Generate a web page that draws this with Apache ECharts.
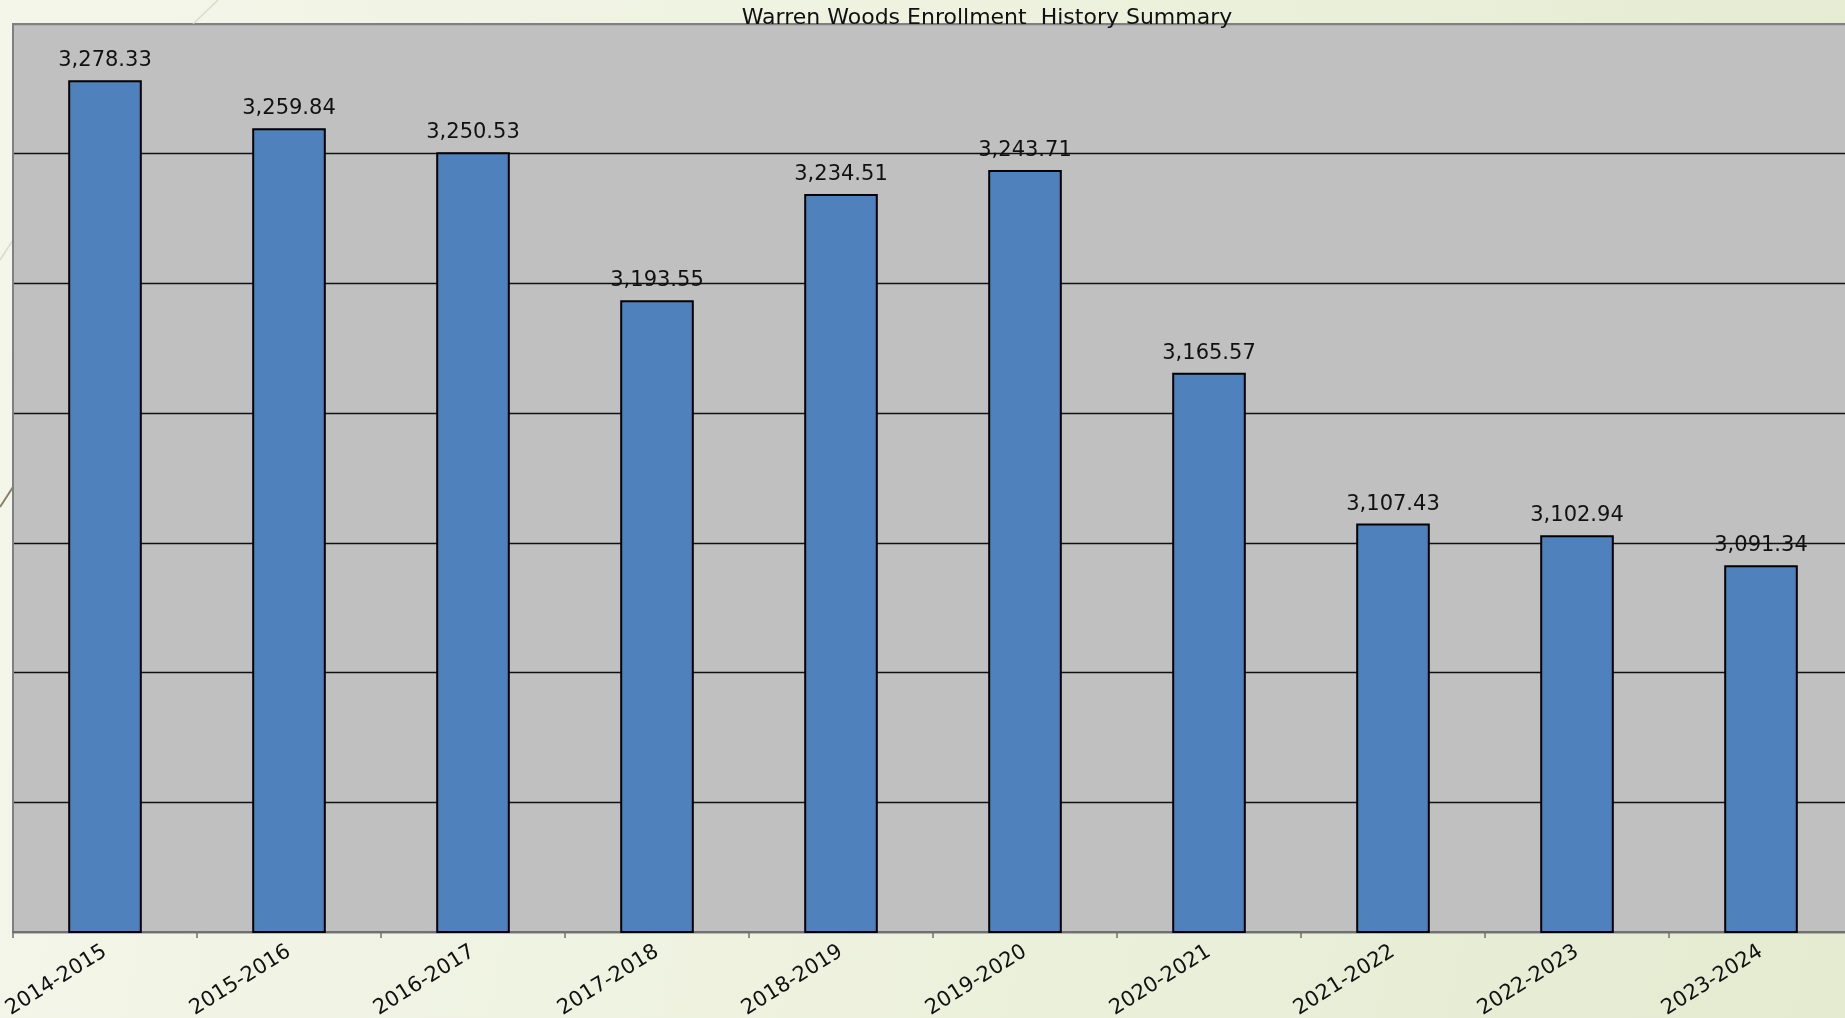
<!DOCTYPE html>
<html>
<head>
<meta charset="utf-8">
<title>Warren Woods Enrollment History Summary</title>
<script src="https://cdn.jsdelivr.net/npm/echarts@6/dist/echarts.min.js"></script>
<style>
    html, body { margin: 0; padding: 0; width: 100%; height: 100%; overflow: hidden; }
    body { background: linear-gradient(100deg, #f4f6ea 0%, #eef2df 45%, #e4ebd0 100%); }
    #chart_con { width: 1845px; height: 1018px; }
</style>
</head>
<body>
<div id="chart_con"></div>
<script>
    var titleText = 'Warren Woods Enrollment  History Summary';
    var years = ['2014-2015', '2015-2016', '2016-2017', '2017-2018', '2018-2019',
                 '2019-2020', '2020-2021', '2021-2022', '2022-2023', '2023-2024'];
    var enrollment = [3278.33, 3259.84, 3250.53, 3193.55, 3234.51,
                      3243.71, 3165.57, 3107.43, 3102.94, 3091.34];
    var yMin = 2950;
    var yMax = 3300;
    var yStep = 50;

    function fmt(v) {
        return v.toLocaleString('en-US', {minimumFractionDigits: 2, maximumFractionDigits: 2});
    }

    var chart = echarts.init(document.getElementById('chart_con'));
    chart.setOption({
        backgroundColor: 'transparent',
        animation: false,
        title: {
            text: titleText,
            left: 982,
            top: 2,
            textAlign: 'center',
            textStyle: {
                fontFamily: 'DejaVu Sans',
                fontWeight: 'normal',
                fontSize: 22,
                color: '#111'
            }
        },
        graphic: [
            {type: 'line', shape: {x1: 218, y1: 0, x2: 193, y2: 24}, style: {stroke: '#d9dccb', lineWidth: 1.5}},
            {type: 'line', shape: {x1: 0, y1: 260, x2: 13, y2: 240}, style: {stroke: '#d9dccb', lineWidth: 1.5}},
            {type: 'line', shape: {x1: 0, y1: 507, x2: 13, y2: 487}, style: {stroke: '#8a7f68', lineWidth: 2}}
        ],
        grid: {
            show: true,
            left: 13,
            top: 24,
            width: 1840,
            bottom: 86,
            outerBoundsMode: 'none',
            containLabel: false,
            backgroundColor: '#c0c0c0',
            borderColor: '#808080',
            borderWidth: 2
        },
        xAxis: {
            type: 'category',
            data: years,
            axisLine: {lineStyle: {color: '#707070', width: 2}},
            axisTick: {show: true, length: 6, lineStyle: {color: '#707070', width: 1.5}},
            axisLabel: {
                rotate: 32,
                margin: 18,
                fontFamily: 'DejaVu Sans',
                fontSize: 21,
                color: '#111'
            }
        },
        yAxis: {
            type: 'value',
            min: yMin,
            max: yMax,
            interval: yStep,
            axisLabel: {show: false},
            axisTick: {show: false},
            axisLine: {show: true, lineStyle: {color: '#808080', width: 2}},
            splitLine: {
                show: true,
                lineStyle: {
                    color: ['#111', '#111', '#111', '#111', '#111', '#111', '#111', '#808080'],
                    width: 1.3
                }
            }
        },
        series: [{
            type: 'bar',
            data: enrollment,
            barWidth: '40%',
            itemStyle: {
                color: '#4f81bd',
                borderColor: '#000',
                borderWidth: 2
            },
            label: {
                show: true,
                position: 'top',
                distance: 9,
                fontFamily: 'DejaVu Sans',
                fontSize: 21,
                color: '#111',
                formatter: function (p) { return fmt(p.value); }
            }
        }]
    });
</script>
</body>
</html>
